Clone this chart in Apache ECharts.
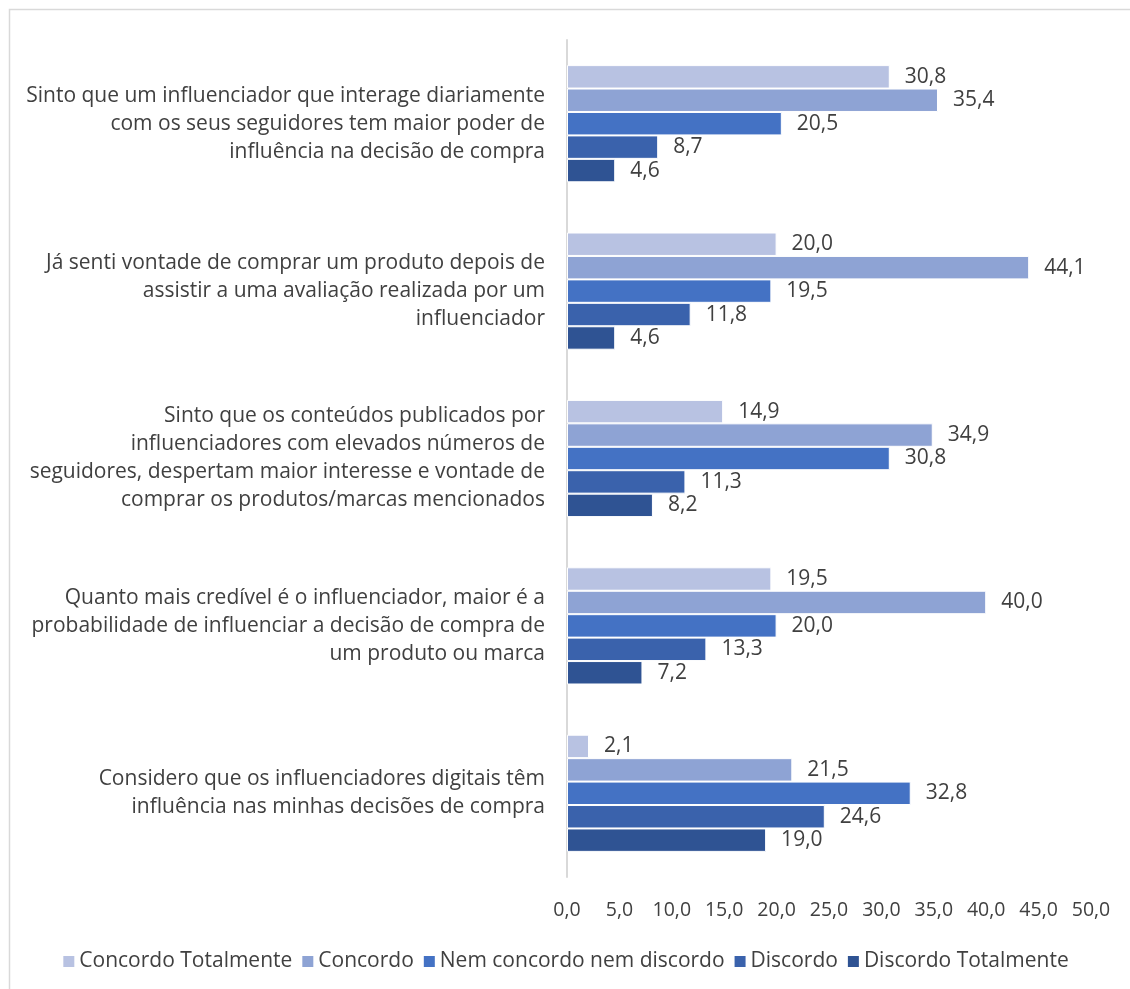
<!DOCTYPE html>
<html>
<head>
<meta charset="utf-8">
<script src="https://cdn.jsdelivr.net/npm/echarts@6/dist/echarts.min.js"></script>
<style>
  html, body { margin: 0; padding: 0; background: #fff; }
  #chart { width: 1130px; height: 989px; }
</style>
</head>
<body>
<div id="chart"></div>
<script>
// Statements, top to bottom
const categories = [
  'Sinto que um influenciador que interage diariamente\ncom os seus seguidores tem maior poder de\ninfluência na decisão de compra',
  'Já senti vontade de comprar um produto depois de\nassistir a uma avaliação realizada por um\ninfluenciador',
  'Sinto que os conteúdos publicados por\ninfluenciadores com elevados números de\nseguidores, despertam maior interesse e vontade de\ncomprar os produtos/marcas mencionados',
  'Quanto mais credível é o influenciador, maior é a\nprobabilidade de influenciar a decisão de compra de\num produto ou marca',
  'Considero que os influenciadores digitais têm\ninfluência nas minhas decisões de compra'
];

const seriesNames = ['Concordo Totalmente', 'Concordo', 'Nem concordo nem discordo', 'Discordo', 'Discordo Totalmente'];

// Percentages per answer, one value per statement (same order as categories)
const concordoTotalmente = [30.8, 20.0, 14.9, 19.5, 2.1];
const concordo = [35.4, 44.1, 34.9, 40.0, 21.5];
const nemConcordo = [20.5, 19.5, 30.8, 20.0, 32.8];
const discordo = [8.7, 11.8, 11.3, 13.3, 24.6];
const discordoTotalmente = [4.6, 4.6, 8.2, 7.2, 19.0];

const seriesValues = [concordoTotalmente, concordo, nemConcordo, discordo, discordoTotalmente];
const colors = ['#B8C2E2', '#8EA3D4', '#4472C4', '#3A62AC', '#2F5393'];

const fmt = v => v.toFixed(1).replace('.', ',');
const font = 'Open Sans, Noto Sans, sans-serif';
const textColor = '#404040';

const chart = echarts.init(document.getElementById('chart'), null, { renderer: 'canvas' });

chart.setOption({
  animation: false,
  color: colors,
  graphic: [{
    type: 'rect',
    shape: { x: 9.5, y: 9.5, width: 1130, height: 990 },
    style: { fill: 'none', stroke: '#d9d9d9', lineWidth: 1.5 },
    silent: true
  }],
  legend: {
    bottom: 12,
    left: 'center',
    itemWidth: 13,
    itemHeight: 13,
    itemGap: 8,
    icon: 'rect',
    textStyle: { fontFamily: font, fontSize: 21, color: textColor, padding: [0, 0, 0, -1] },
    data: seriesNames
  },
  grid: { left: 567, right: 39, top: 40, bottom: 112, containLabel: false },
  xAxis: {
    type: 'value',
    min: 0,
    max: 50,
    interval: 5,
    axisLine: { show: false },
    axisTick: { show: false },
    splitLine: { show: false },
    axisLabel: {
      margin: 23,
      fontFamily: font,
      fontSize: 19.5,
      color: textColor,
      formatter: v => fmt(v)
    }
  },
  yAxis: {
    type: 'category',
    inverse: true,
    data: categories,
    axisLine: { show: true, lineStyle: { color: '#d9d9d9', width: 2 } },
    axisTick: { show: false },
    axisLabel: {
      margin: 22,
      fontFamily: font,
      fontSize: 21,
      lineHeight: 28,
      color: textColor,
      align: 'right'
    }
  },
  series: seriesNames.map((name, i) => ({
    name,
    type: 'bar',
    data: seriesValues[i],
    barGap: '0%',
    barCategoryGap: '30%',
    itemStyle: { color: colors[i], borderColor: '#ffffff', borderWidth: 1 },
    label: {
      show: true,
      position: 'right',
      distance: 15,
      fontFamily: font,
      fontSize: 21,
      color: textColor,
      padding: [3, 0, 0, 0],
      formatter: p => fmt(p.value)
    }
  }))
});
</script>
</body>
</html>
